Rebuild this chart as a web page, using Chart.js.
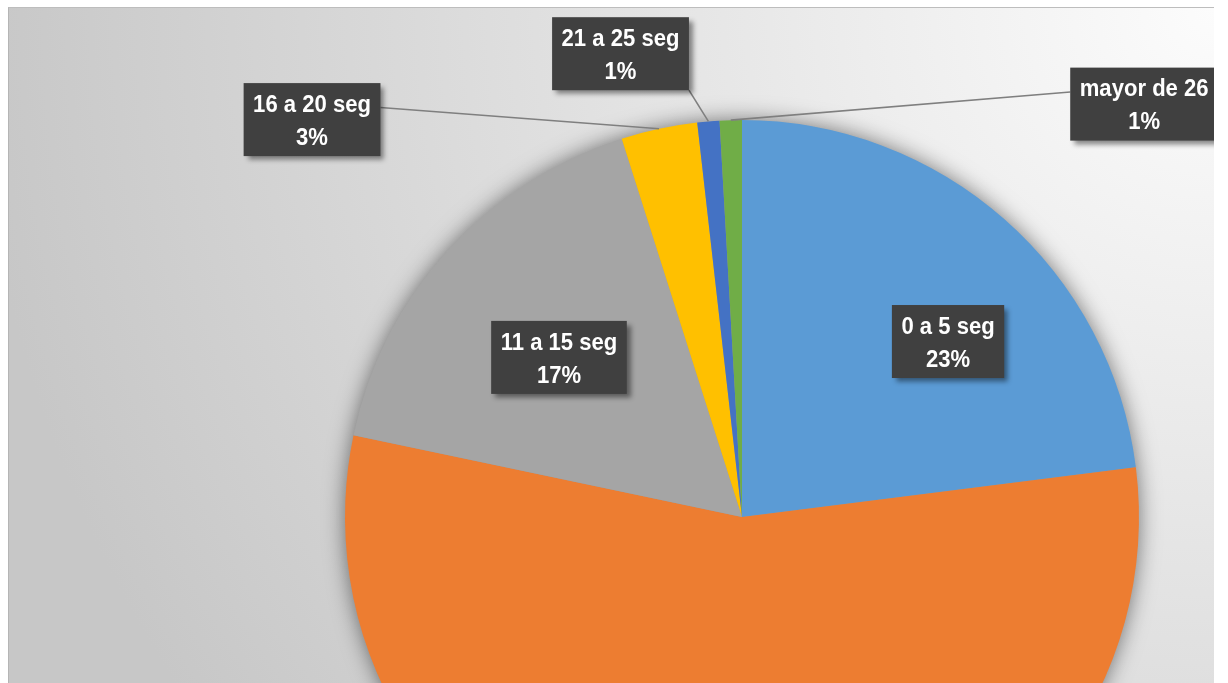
<!DOCTYPE html>
<html>
<head>
<meta charset="utf-8">
<script src="https://cdn.jsdelivr.net/npm/chart.js@4.4.1/dist/chart.umd.min.js"></script>
<style>
  html, body { margin:0; padding:0; width:1228px; height:683px; overflow:hidden; background:#ffffff; }
  #frame { position:absolute; left:8px; top:7px; width:1206px; height:690px; box-sizing:border-box;
    border-top:1px solid #bdbdbd; border-left:1px solid #b5b5b5;
    background: radial-gradient(circle 1240px at 100% 0%, #fcfcfc 0%, #c7c7c7 100%); }
  #c { position:absolute; left:0; top:0; clip-path: inset(8px 14px 0px 9px); }
</style>
</head>
<body>
<div id="frame"></div>
<canvas id="c" width="1228" height="1034"></canvas>
<script>
const categories = ['0 a 5 seg', '6 a 10 seg', '11 a 15 seg', '16 a 20 seg', '21 a 25 seg', 'mayor de 26'];
const values = [23.0, 55.3, 16.8, 3.1, 0.9, 0.9];
const sliceColors = ['#5B9BD5', '#ED7D31', '#A5A5A5', '#FFC000', '#4472C4', '#70AD47'];

// label placement, relative to pie centre in units of radius (layout only)
const labelLayout = [
  { fx: 0.519, fy: -0.442, leader: false },
  { fx: 0.0,   fy: 0.55,   leader: false },
  { fx: -0.461, fy: -0.402, leader: false },
  { fx: -1.083, fy: -1.001, leader: true },
  { fx: -0.306, fy: -1.167, leader: true },
  { fx: 1.013, fy: -1.040, leader: true }
];

const pieShadow = {
  id: 'pieShadow',
  beforeDatasetsDraw(chart) {
    const arc = chart.getDatasetMeta(0).data[0];
    if (!arc) return;
    const ctx = chart.ctx;
    ctx.save();
    ctx.shadowColor = 'rgba(0,0,0,0.55)';
    ctx.shadowBlur = 22;
    ctx.fillStyle = '#9a9a9a';
    ctx.beginPath();
    ctx.arc(arc.x, arc.y, arc.outerRadius - 1, 0, Math.PI * 2);
    ctx.fill();
    ctx.restore();
  }
};

const boxLabels = {
  id: 'boxLabels',
  afterDatasetsDraw(chart) {
    const ctx = chart.ctx;
    const meta = chart.getDatasetMeta(0);
    const data = chart.data.datasets[0].data;
    const total = data.reduce((a, b) => a + b, 0);
    const sx = 0.92;
    ctx.save();
    ctx.font = 'bold 24px "Liberation Sans", Arial, sans-serif';
    meta.data.forEach((arc, i) => {
      const lay = labelLayout[i];
      const r = arc.outerRadius;
      const cx = arc.x + lay.fx * r;
      const cy = arc.y + lay.fy * r;
      const l1 = chart.data.labels[i];
      const l2 = Math.round(data[i] / total * 100) + '%';
      const tw = Math.max(ctx.measureText(l1).width, ctx.measureText(l2).width) * sx;
      const w = tw + 19, h = 73;
      const left = cx - w / 2, top = cy - h / 2, right = left + w, bottom = top + h;
      if (lay.leader) {
        const mid = (arc.startAngle + arc.endAngle) / 2;
        const px = arc.x + Math.cos(mid) * r;
        const py = arc.y + Math.sin(mid) * r;
        let ax, ay;
        const hgap = px > right ? px - right : (px < left ? left - px : 0);
        const vgap = py > bottom ? py - bottom : (py < top ? top - py : 0);
        if (vgap > hgap) {
          ax = Math.min(Math.max(px, left), right);
          ay = py > bottom ? bottom : top;
        } else {
          ax = px > right ? right : left;
          ay = top + h / 3;
        }
        ctx.save();
        ctx.strokeStyle = '#7f7f7f';
        ctx.lineWidth = 1.6;
        ctx.beginPath();
        ctx.moveTo(ax, ay);
        ctx.lineTo(px, py);
        ctx.stroke();
        ctx.restore();
      }
      ctx.save();
      ctx.shadowColor = 'rgba(0,0,0,0.45)';
      ctx.shadowBlur = 5;
      ctx.shadowOffsetX = 4;
      ctx.shadowOffsetY = 4;
      ctx.fillStyle = '#404040';
      ctx.fillRect(left, top, w, h);
      ctx.restore();
      ctx.save();
      ctx.fillStyle = '#ffffff';
      ctx.textAlign = 'center';
      ctx.textBaseline = 'middle';
      ctx.translate(cx, cy);
      ctx.scale(sx, 1);
      ctx.fillText(l1, 0, -14.5);
      ctx.fillText(l2, 0, 18.5);
      ctx.restore();
    });
    ctx.restore();
  }
};

new Chart(document.getElementById('c'), {
  type: 'pie',
  data: {
    labels: categories,
    datasets: [{
      data: values,
      backgroundColor: sliceColors,
      borderWidth: 0,
      hoverOffset: 0
    }]
  },
  options: {
    responsive: false,
    animation: false,
    layout: { padding: { top: 120, bottom: 120, left: 345, right: 89 } },
    plugins: { legend: { display: false }, tooltip: { enabled: false } }
  },
  plugins: [pieShadow, boxLabels]
});
</script>
</body>
</html>
